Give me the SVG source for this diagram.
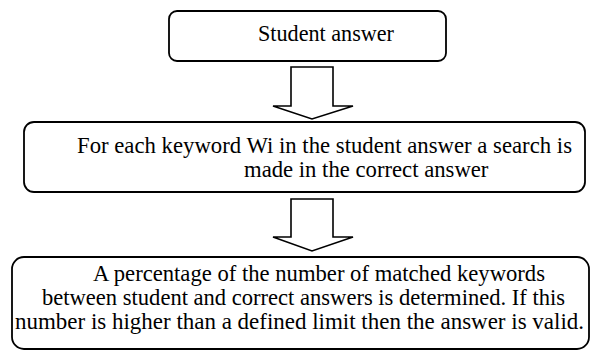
<svg xmlns="http://www.w3.org/2000/svg" width="591" height="351" viewBox="0 0 591 351">
<style>
.box{fill:#fff;stroke:#000;stroke-width:1.8}
.arrow{fill:#fff;stroke:#000;stroke-width:1.6;stroke-linejoin:miter}
text{font-family:"Liberation Serif","Times New Roman",serif;font-size:22.7px;fill:#000}
</style>
<rect width="591" height="351" fill="#fff"/>
<g id="connectors">
<path class="arrow" d="M291,67 H333 V106 H353 L312,119 L273,106 H291 Z"/>
<path class="arrow" d="M291,199 H333 V237 H353 L312,251 L273,237 H291 Z"/>
</g>
<g id="node1">
<rect class="box" x="169" y="11" width="277" height="50" rx="8"/>
<text x="258" y="41" textLength="136" lengthAdjust="spacingAndGlyphs">Student answer</text>
</g>
<g id="node2">
<rect class="box" x="24" y="122" width="561" height="70" rx="10"/>
<text x="77" y="153" textLength="495" lengthAdjust="spacingAndGlyphs">For each keyword Wi in the student answer a search is</text>
<text x="244" y="177">made in the correct answer</text>
</g>
<g id="node3">
<rect class="box" x="12" y="257" width="577" height="92" rx="12"/>
<text x="93" y="281" textLength="452" lengthAdjust="spacingAndGlyphs">A percentage of the number of matched keywords</text>
<text x="42" y="305" textLength="523" lengthAdjust="spacingAndGlyphs">between student and correct answers is determined. If this</text>
<text x="15" y="329" textLength="569" lengthAdjust="spacingAndGlyphs">number is higher than a defined limit then the answer is valid.</text>
</g>
</svg>
